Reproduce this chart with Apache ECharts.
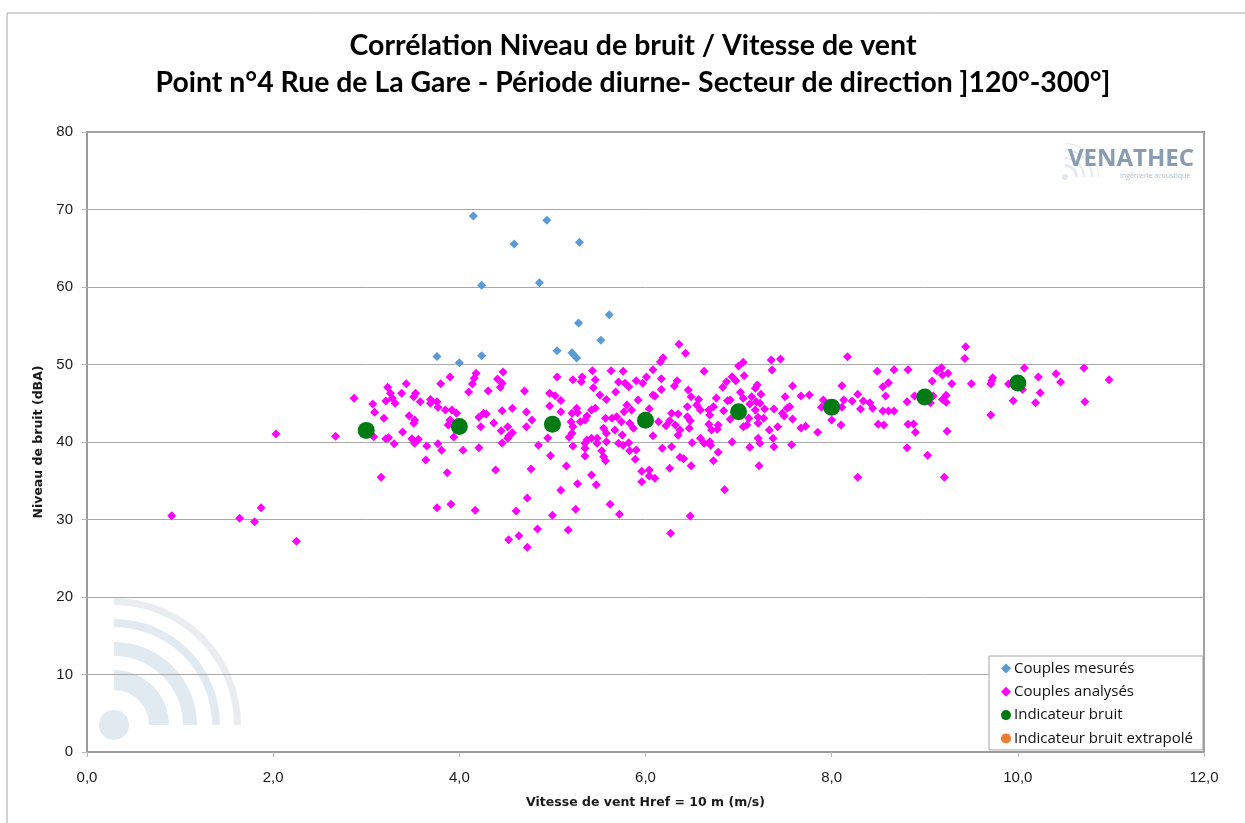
<!DOCTYPE html>
<html><head><meta charset="utf-8">
<style>html,body{margin:0;padding:0;background:#fff}#c{width:1245px;height:823px}</style>
<script src="https://cdn.jsdelivr.net/npm/echarts@6/dist/echarts.min.js"></script>
</head><body><div id="c"></div>
<script>
const titleLines = ["Corrélation Niveau de bruit / Vitesse de vent","Point n°4 Rue de La Gare - Période diurne- Secteur de direction ]120°-300°]"];
const seriesNames = ["Couples mesurés","Couples analysés","Indicateur bruit","Indicateur bruit extrapolé"];
const measured = [[4.15,69.17],[4.94,68.61],[4.59,65.55],[5.29,65.77],[4.24,60.22],[4.86,60.56],[5.61,56.43],[5.28,55.36],[5.52,53.12],[5.05,51.79],[5.21,51.53],[5.23,51.23],[5.26,50.84],[4.24,51.14],[3.76,51.02],[4.0,50.24]];
const analysedLeft = [[0.91,30.5],[1.64,30.15],[1.8,29.72],[1.87,31.53],[2.25,27.18],[2.03,41.03],[2.67,40.73],
[2.87,45.63],[3.07,44.9],[3.09,43.83],[3.19,43.05],[3.23,47.05],[3.26,46.28],[3.28,45.63],[3.31,44.99],[3.21,45.29],[3.38,46.28],[3.43,47.53],[3.51,45.85],[3.53,46.28],[3.58,45.2],[3.69,45.5],[3.69,44.99],[3.76,45.2],[3.77,44.47],[3.85,44.13],[3.92,44.13],[3.97,43.7],[3.9,42.84],[3.88,42.19],[3.46,43.4],[3.52,42.84],[3.51,42.41],[3.39,41.29],[3.49,40.43],[3.52,39.83],[3.56,40.34],[3.21,40.43],[3.24,40.56],[3.08,40.69],[3.3,39.78],[3.65,39.48],[3.77,39.78],[3.81,38.92],[3.64,37.68],[3.87,36.04],[3.16,35.44],[3.94,40.64],[4.04,38.92],[4.21,39.27],[3.8,47.53],[3.9,48.39],[4.18,48.86],[4.16,48.21],[4.14,47.48],[4.1,46.45],[4.31,46.58],[4.41,48.13],[4.47,49.03],[4.46,47.57],[4.44,47.05],[4.21,43.18],[4.26,43.7],[4.29,43.61],[4.23,41.98],[4.37,42.45],[4.46,44.04],[4.57,44.34],[4.52,41.98],[4.45,41.46],[4.57,41.2],[4.53,40.77],[4.52,40.47],[4.46,39.87],[4.72,43.87],[4.78,42.84],[4.72,41.98],[4.7,46.58],[5.05,48.39],[4.97,46.28],[5.03,45.98],[5.09,45.37],[4.97,44.64],[5.09,43.91],[4.95,40.52],[4.85,39.57],[4.98,38.24],[5.15,36.9],[4.39,36.39],[4.77,36.52],[5.42,35.74],[5.27,34.62],[5.47,34.49],[5.09,33.76],[4.73,32.77],[3.76,31.53],[3.91,31.96],[4.17,31.18],[4.61,31.1],[5.0,30.54],[5.25,31.31],[5.62,31.96],[5.72,30.67],[4.84,28.77],[5.17,28.64],[4.64,27.91],[4.53,27.4],[4.73,26.41]];
const analysedCentre = [[5.22,48.04],[5.32,48.39],[5.31,47.78],[5.43,49.2],[5.46,48.04],[5.44,47.01],[5.51,46.06],[5.58,45.5],[5.63,49.2],[5.76,49.12],[5.71,47.74],[5.78,47.57],[5.82,47.14],[5.9,47.91],[5.68,46.45],[5.92,45.42],[5.8,44.77],[5.77,43.91],[5.85,44.13],[5.46,44.34],[5.42,44.13],[5.37,43.35],[5.35,42.84],[5.26,44.34],[5.27,43.78],[5.21,43.7],[5.2,42.62],[5.3,42.62],[5.22,41.98],[5.21,41.12],[5.18,40.6],[5.22,39.48],[5.37,40.26],[5.42,40.47],[5.48,40.47],[5.35,39.83],[5.48,39.83],[5.35,39.18],[5.35,38.19],[5.53,38.88],[5.55,38.11],[5.57,37.59],[5.58,40.04],[5.57,43.05],[5.55,41.76],[5.58,41.12],[5.67,41.55],[5.64,43.05],[5.69,43.27],[5.74,42.62],[5.83,42.41],[5.87,41.76],[5.75,40.9],[5.71,39.83],[5.76,39.57],[5.82,39.91],[5.83,38.88],[5.9,38.97],[5.89,37.76],
[6.36,52.6],[6.43,51.44],[6.19,50.88],[6.16,50.32],[6.08,49.33],[6.01,48.39],[5.97,47.57],[6.17,48.17],[6.34,47.91],[6.31,47.22],[6.17,46.79],[6.08,46.06],[6.1,45.93],[6.04,44.3],[6.14,42.62],[6.22,42.11],[6.08,40.82],[6.28,43.7],[6.35,43.61],[6.26,42.75],[6.32,42.19],[6.37,41.55],[6.35,40.86],[6.45,44.56],[6.46,46.71],[6.49,45.85],[6.57,45.5],[6.55,44.77],[6.59,44.13],[6.45,43.27],[6.48,42.75],[6.47,41.76],[6.63,49.12],[6.5,39.91],[6.59,40.47],[6.63,39.83],[6.69,40.04],[6.7,39.57],[6.18,39.18],[6.28,39.4],[6.37,38.02],[6.41,37.85],[6.49,36.95],[6.26,36.6],[5.96,36.21],[6.04,36.39],[6.04,35.61],[6.1,35.31],[5.96,34.88],[6.78,38.67],[6.73,37.59],[6.85,33.85],[6.48,30.45],[6.27,28.21]];
const analysedRight = [[6.68,44.13],[6.73,44.56],[6.69,43.48],[6.68,42.28],[6.71,41.55],[6.78,42.19],[6.77,41.63],[6.84,44.04],[6.76,45.68],[6.88,45.33],[6.91,45.42],[6.83,47.05],[6.87,47.78],[6.93,48.43],[6.97,47.91],[7.0,49.8],[7.05,50.28],[7.06,48.56],[7.02,46.41],[7.05,45.63],[6.91,42.92],[6.93,40],[7.05,41.98],[7.09,42.19],[7.11,43.05],[7.14,45.85],[7.12,44.9],[7.19,45.2],[7.23,44.99],[7.18,44.13],[7.21,43.18],[7.21,42.41],[7.27,43.05],[7.24,46.15],[7.2,47.35],[7.18,46.92],[7.28,44.26],[7.38,44.26],[7.33,41.55],[7.42,41.98],[7.21,40.47],[7.23,39.83],[7.37,40.47],[7.38,39.4],[7.12,39.31],[7.57,39.65],[7.22,36.95],[7.5,45.85],[7.58,47.22],[7.35,50.58],[7.45,50.71],[7.36,49.29],[7.67,45.93],[7.76,46.06],[7.55,44.56],[7.52,44.34],[7.47,43.7],[7.49,43.35],[7.58,42.97],[7.67,41.81],[7.72,42.02],[7.85,41.25],[7.91,45.42],[7.89,44.47],[8.13,45.42],[8.11,47.27],[8.11,44.47],[8.0,42.84],[8.1,42.19],[8.22,45.29],[8.28,46.15],[8.34,45.29],[8.31,44.26],[8.41,45.07],[8.44,44.34],[8.49,49.12],[8.17,51.01],[8.67,49.33],[8.82,49.33],[8.55,47.14],[8.61,47.65],[8.58,45.93],[8.55,44],[8.61,44],[8.67,44],[8.5,42.28],[8.56,42.19],[8.81,45.2],[8.82,42.28],[8.88,42.32],[8.9,41.25],[8.89,45.93],[8.81,39.27],[8.28,35.44],
[9.44,52.3],[9.43,50.79],[9.18,49.59],[9.13,49.2],[9.25,48.86],[9.19,48.64],[9.08,47.87],[9.29,47.53],[9.5,47.53],[9.73,48.3],[9.72,47.91],[9.71,47.48],[9.9,47.48],[10.07,49.55],[10.22,48.39],[10.41,48.82],[10.46,47.74],[10.71,49.55],[10.98,48.04],[10.24,46.36],[10.05,46.79],[9.95,45.33],[10.19,45.07],[10.72,45.2],[9.71,43.48],[9.24,41.38],[9.03,38.28],[9.21,35.44],[9.09,45.93],[9.23,46.02],[9.19,45.5],[9.23,45.12],[9.06,45.07]];
const indicator = [[3,41.5],[4,42.0],[5,42.3],[6,42.8],[7,43.9],[8,44.5],[9,45.8],[10,47.6]];
const extrapolated = [];

const wm = "#e2eaf1", wmOuter = "#e9edef";
const arc = (r0, r, fill) => ({type:'sector', z:-5, silent:true,
  shape:{cx:114, cy:725, r0, r, startAngle:-Math.PI/2, endAngle:0, clockwise:true}, style:{fill}});
const logoArc = (r0, r) => ({type:'sector', z:-5, silent:true,
  shape:{cx:1065, cy:177, r0, r, startAngle:-Math.PI/2, endAngle:0, clockwise:true}, style:{fill:'#e4eaef'}});

const chart = echarts.init(document.getElementById('c'), null, {renderer:'canvas'});
const tickFont = {fontFamily:'"Liberation Sans"', fontSize:15, color:'#1a1a1a'};
chart.setOption({
  animation:false,
  backgroundColor:'#fff',
  title:[
    {text:titleLines[0], left:628, top:26, textAlign:'center', textStyle:{fontFamily:'Lato', fontWeight:700, fontSize:28.5, color:'#000'}},
    {text:titleLines[1], left:628, top:64, textAlign:'center', textStyle:{fontFamily:'Lato', fontWeight:700, fontSize:28.4, color:'#000'}}
  ],
  grid:{left:87, top:132, width:1117, height:620, show:true, borderColor:'#a0a0a0', borderWidth:2, backgroundColor:'transparent', containLabel:false},
  xAxis:{type:'value', min:0, max:12, interval:2, name:'Vitesse de vent Href = 10 m (m/s)', nameLocation:'middle', nameGap:44,
    nameTextStyle:{fontFamily:'"DejaVu Sans"', fontWeight:700, fontSize:12.5, color:'#1a1a1a'},
    axisLine:{show:true, onZero:false, lineStyle:{color:'#9a9a9a', width:2}}, axisTick:{show:true, length:5, lineStyle:{color:'#bbb'}},
    splitLine:{show:false},
    axisLabel:Object.assign({margin:18, formatter:v=>v.toFixed(1).replace('.',',')}, tickFont)},
  yAxis:{type:'value', min:0, max:80, interval:10, name:'Niveau de bruit (dBA)', nameLocation:'middle', nameGap:41,
    nameTextStyle:{fontFamily:'"DejaVu Sans"', fontWeight:700, fontSize:12.5, color:'#1a1a1a'},
    axisLine:{show:true, lineStyle:{color:'#9a9a9a', width:2}}, axisTick:{show:true, length:5, lineStyle:{color:'#bbb'}},
    splitLine:{show:true, lineStyle:{color:'#a8a8a8', width:1}},
    axisLabel:Object.assign({margin:14}, tickFont)},
  legend:{show:true, orient:'vertical', left:989, top:656, data:seriesNames,
    backgroundColor:'#fff', borderColor:'#a6a6a6', borderWidth:1, padding:[5,10,4,12], itemGap:8.3, itemWidth:10, itemHeight:10,
    textStyle:{fontFamily:'"Open Sans"', fontSize:15, color:'#111', padding:[0,0,0,-2]}},
  graphic:[
    {type:'line', z:-5, silent:true, shape:{x1:7,y1:13,x2:7,y2:823}, style:{stroke:'#a6a6a6', lineWidth:1}},
    {type:'line', z:-5, silent:true, shape:{x1:7,y1:13,x2:1245,y2:13}, style:{stroke:'#a6a6a6', lineWidth:1}},
    {type:'circle', z:-5, silent:true, shape:{cx:114,cy:725,r:15}, style:{fill:wm}},
    arc(35,55,wm), arc(69,83,wm), arc(98,106,wm), arc(120,127,wmOuter),
    {type:'circle', z:-5, silent:true, shape:{cx:1065,cy:177,r:3}, style:{fill:'#dfe6ec'}},
    logoArc(10,13), logoArc(18,20), logoArc(26,28), logoArc(33,34),
    {type:'text', z:-4, silent:true, left:1068, top:147, style:{text:'VENATHEC', font:'700 24px "Open Sans"', fill:'#8a9db0'}},
    {type:'text', z:-4, silent:true, left:1120, top:172, style:{text:'Ingénierie acoustique', font:'400 7px "Open Sans"', fill:'#b4c0cb'}}
  ],
  series:[
    {name:seriesNames[0], type:'scatter', symbol:'diamond', symbolSize:9, itemStyle:{color:'#5b9bd5', opacity:1}, data:measured, z:3},
    {name:seriesNames[1], type:'scatter', symbol:'diamond', symbolSize:9, itemStyle:{color:'#ff00ff', opacity:1}, data:analysedLeft.concat(analysedCentre, analysedRight), z:4},
    {name:seriesNames[2], type:'scatter', symbol:'circle', symbolSize:17, itemStyle:{color:'#007a12', opacity:1}, data:indicator, z:5},
    {name:seriesNames[3], type:'scatter', symbol:'circle', symbolSize:17, itemStyle:{color:'#ed7d31', opacity:1}, data:extrapolated, z:6}
  ]
});
</script></body></html>
